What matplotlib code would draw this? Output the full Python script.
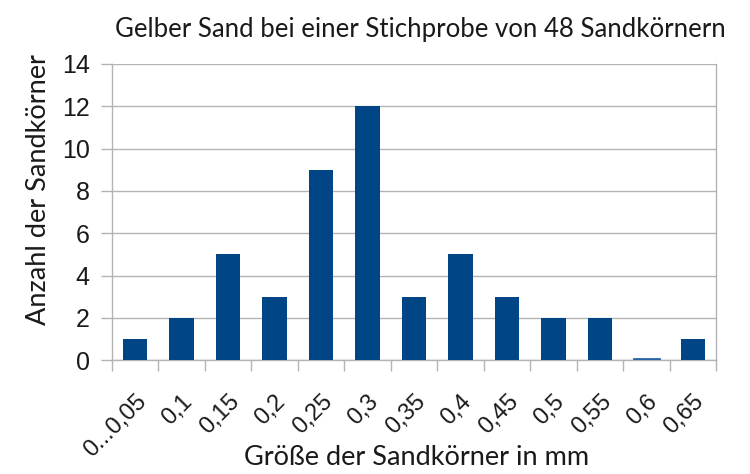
import matplotlib.pyplot as plt
import numpy as np

categories = ['0...0,05', '0,1', '0,15', '0,2', '0,25', '0,3', '0,35',
              '0,4', '0,45', '0,5', '0,55', '0,6', '0,65']
counts = [1, 2, 5, 3, 9, 12, 3, 5, 3, 2, 2, 0, 1]

fig = plt.figure(figsize=(7.5, 4.74), dpi=100)
ax = fig.add_axes([0.149, 0.24, 0.806, 0.625])

x = np.arange(len(categories))
ax.bar(x, counts, width=0.52, color='#004586', zorder=3)
# thin marker for zero-height bar
for xi, c in zip(x, counts):
    if c == 0:
        ax.plot([xi - 0.26, xi + 0.26], [0.06, 0.06], color='#2a64a8', lw=2, zorder=3)

ax.set_xlim(-0.5, len(categories) - 0.5)
ax.set_ylim(0, 14)
ax.set_yticks(range(0, 15, 2))
ax.yaxis.grid(True, color='#b3b3b3', lw=1)
ax.set_axisbelow(True)

ax.set_xticks(x)
ax.set_xticklabels(categories, rotation=45, ha='right', va='top',
                   rotation_mode='anchor', fontsize=17, family='Liberation Sans',
                   color='#1a1a1a')
ax.tick_params(axis='x', length=0, pad=22)
ax.set_xticks(np.arange(-0.5, len(categories)), minor=True)
ax.tick_params(axis='x', which='minor', length=8, color='#b3b3b3', width=1)
ax.tick_params(axis='y', length=8, color='#b3b3b3', width=1, labelsize=18, pad=8,
               labelcolor='#1a1a1a')
for lab in ax.get_yticklabels():
    lab.set_family('Liberation Sans')

ax.spines['top'].set_visible(False)
for s in ['left', 'right', 'bottom']:
    ax.spines[s].set_color('#b3b3b3')
    ax.spines[s].set_linewidth(1)

fig.text(0.56, 0.937, 'Gelber Sand bei einer Stichprobe von 48 Sandkörnern',
         fontsize=18.5, family='Lato', color='#1a1a1a', ha='center', va='center')
fig.text(0.555, 0.034, 'Größe der Sandkörner in mm', fontsize=19.5, family='Lato',
         color='#1a1a1a', ha='center', va='center')
fig.text(0.051, 0.6, 'Anzahl der Sandkörner', fontsize=19.5, family='Lato',
         color='#1a1a1a', ha='center', va='center', rotation=90)

fig.savefig('out.png', dpi=100)
